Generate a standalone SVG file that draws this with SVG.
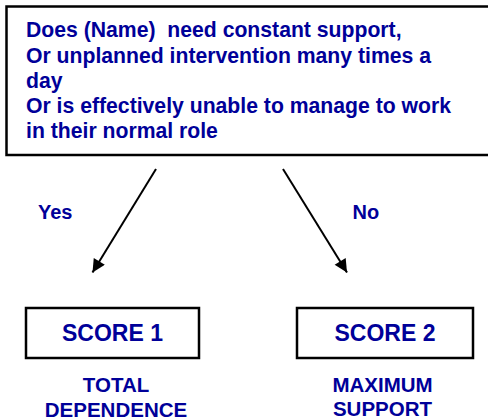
<svg xmlns="http://www.w3.org/2000/svg" width="488" height="420" viewBox="0 0 488 420">
<defs>
<marker id="ah" viewBox="0 0 10 10" refX="10" refY="5" markerWidth="15" markerHeight="13" markerUnits="userSpaceOnUse" orient="auto">
<path d="M0,0 L10,5 L0,10 z" fill="#000"/>
</marker>
</defs>
<style>
.box{fill:#fff;stroke:#000;stroke-width:2.5}
.t{font-family:"Liberation Sans",Arial,sans-serif;font-weight:bold;fill:#000099}
.q{font-size:21.2px}
.s{font-size:23px}
.l{font-size:20.5px}
.yn{font-size:20px}
.c{stroke:#000;stroke-width:2;fill:none}
</style>
<g id="question">
<rect class="box" x="6.5" y="6.5" width="490" height="148.5"/>
<text class="t q" x="26" y="37" xml:space="preserve">Does (Name)  need constant support,</text>
<text class="t q" x="26" y="62.7">Or unplanned intervention many times a</text>
<text class="t q" x="26" y="87.5">day</text>
<text class="t q" x="26" y="113.3">Or is effectively unable to manage to work</text>
<text class="t q" x="26" y="138.3">in their normal role</text>
</g>
<g id="connectors">
<line class="c" x1="156" y1="169" x2="92.5" y2="272.5" marker-end="url(#ah)"/>
<line class="c" x1="283" y1="169" x2="347" y2="272.5" marker-end="url(#ah)"/>
<text class="t yn" x="38" y="219">Yes</text>
<text class="t yn" x="352.5" y="218.5">No</text>
</g>
<g id="score1">
<rect class="box" x="26" y="308" width="173" height="50"/>
<text class="t s" x="112.5" y="341" text-anchor="middle">SCORE 1</text>
<text class="t l" x="116" y="391.7" text-anchor="middle">TOTAL</text>
<text class="t l" x="116" y="416.7" text-anchor="middle">DEPENDENCE</text>
</g>
<g id="score2">
<rect class="box" x="297" y="308" width="176" height="50"/>
<text class="t s" x="385" y="341" text-anchor="middle">SCORE 2</text>
<text class="t l" x="382.5" y="391.7" text-anchor="middle">MAXIMUM</text>
<text class="t l" x="382.5" y="416.2" text-anchor="middle">SUPPORT</text>
</g>
</svg>
